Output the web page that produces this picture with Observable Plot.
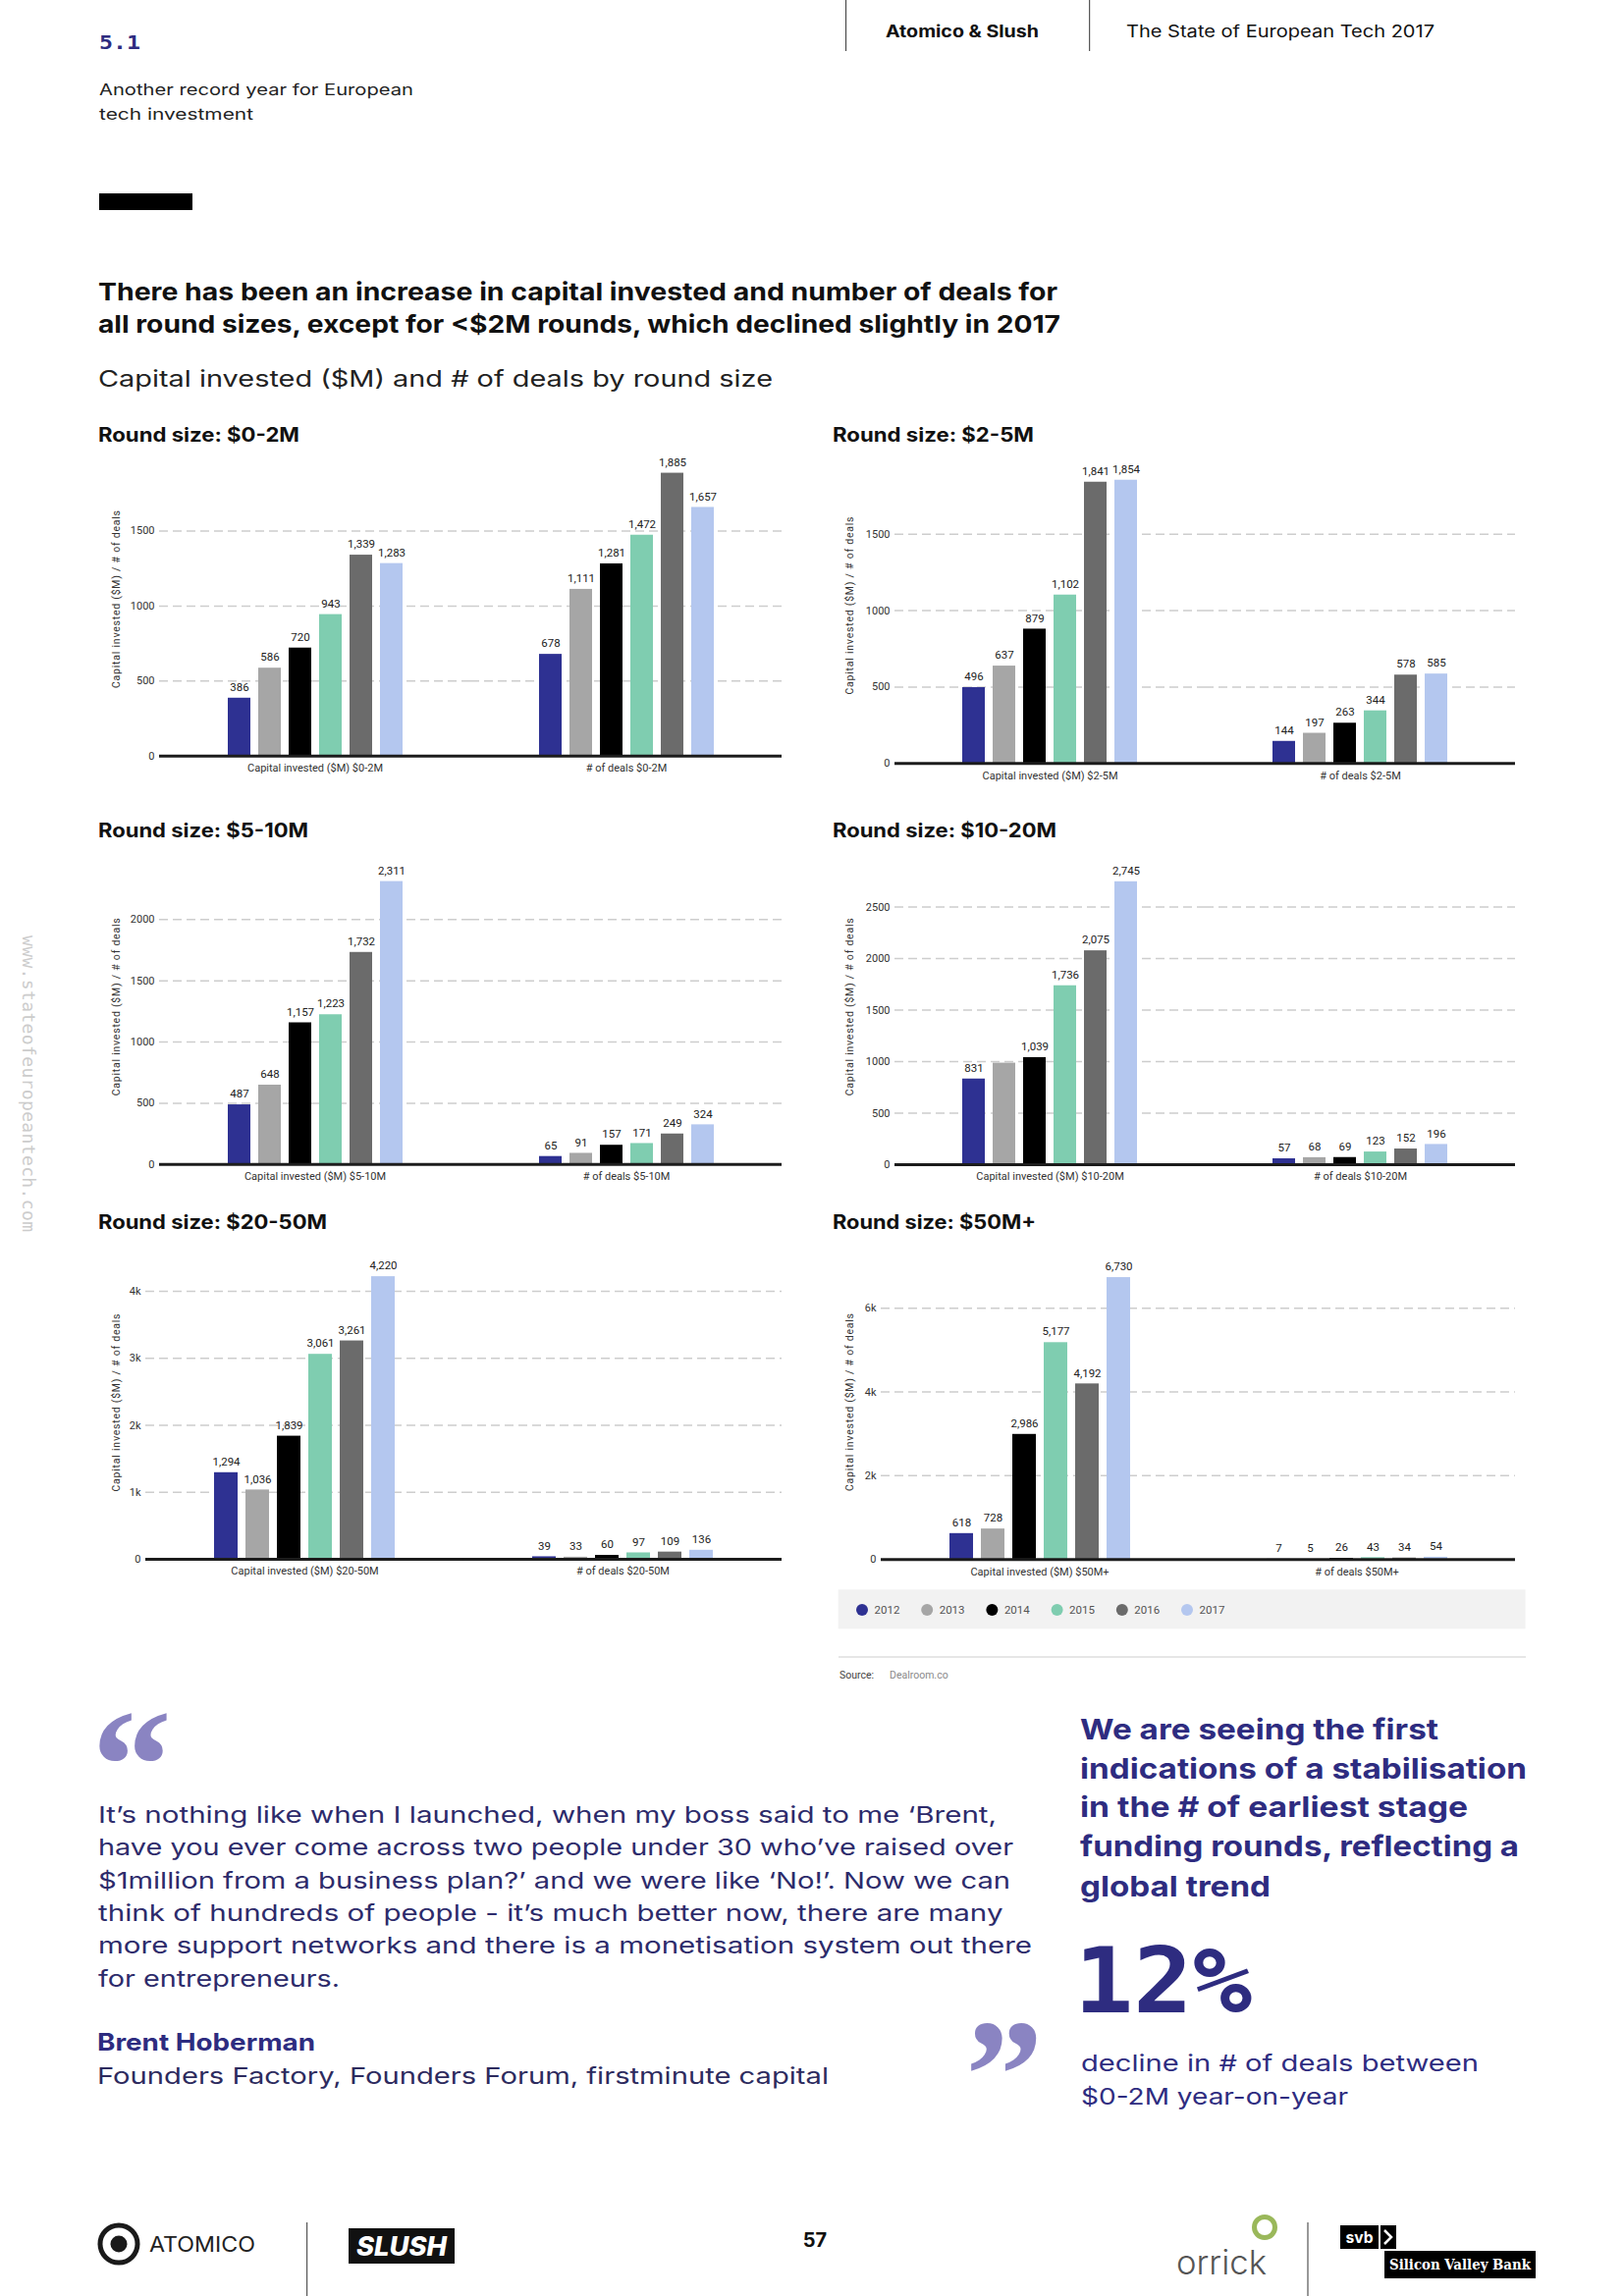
<!DOCTYPE html>
<html><head><meta charset="utf-8">
<script src="https://cdn.jsdelivr.net/npm/d3@7"></script>
<script src="https://cdn.jsdelivr.net/npm/@observablehq/plot@0.6"></script>
<style>
html,body{margin:0;padding:0;background:#fff;}
#page{position:relative;width:1654px;height:2339px;overflow:hidden;background:#fff;}
.panel{position:absolute;}
.panel svg{display:block;overflow:visible;}
#overlay{position:absolute;left:0;top:0;}
</style></head><body><div id="page"></div>
<script>
// ---------------- DATA ----------------
const years = ["2012","2013","2014","2015","2016","2017"];
const yearColors = ["#2e3192","#a6a6a6","#000000","#7fcdb0","#6b6b6b","#b4c7ef"];
const roundSizes = ["$0-2M","$2-5M","$5-10M","$10-20M","$20-50M","$50M+"];

const capital_0_2   = [386, 586, 720, 943, 1339, 1283];
const deals_0_2     = [678, 1111, 1281, 1472, 1885, 1657];
const capital_2_5   = [496, 637, 879, 1102, 1841, 1854];
const deals_2_5     = [144, 197, 263, 344, 578, 585];
const capital_5_10  = [487, 648, 1157, 1223, 1732, 2311];
const deals_5_10    = [65, 91, 157, 171, 249, 324];
const capital_10_20 = [831, 985, 1039, 1736, 2075, 2745];
const deals_10_20   = [57, 68, 69, 123, 152, 196];
const capital_20_50 = [1294, 1036, 1839, 3061, 3261, 4220];
const deals_20_50   = [39, 33, 60, 97, 109, 136];
const capital_50    = [618, 728, 2986, 5177, 4192, 6730];
const deals_50      = [7, 5, 26, 43, 34, 54];

// bar labels not printed in the original
const hiddenLabels = [{round: "$10-20M", series: "capital", year: "2013"}];

const yTicks_0_2 = [0, 500, 1000, 1500];          const yTickLabels_0_2 = ["0","500","1000","1500"];
const yTicks_2_5 = [0, 500, 1000, 1500];          const yTickLabels_2_5 = ["0","500","1000","1500"];
const yTicks_5_10 = [0, 500, 1000, 1500, 2000];   const yTickLabels_5_10 = ["0","500","1000","1500","2000"];
const yTicks_10_20 = [0, 500, 1000, 1500, 2000, 2500]; const yTickLabels_10_20 = ["0","500","1000","1500","2000","2500"];
const yTicks_20_50 = [0, 1000, 2000, 3000, 4000]; const yTickLabels_20_50 = ["0","1k","2k","3k","4k"];
const yTicks_50 = [0, 2000, 4000, 6000];          const yTickLabels_50 = ["0","2k","4k","6k"];

const yAxisTitle = "Capital invested ($M) / # of deals";
const capitalLabelPrefix = "Capital invested ($M) ";
const dealsLabelPrefix = "# of deals ";

const panels = [
  {round: roundSizes[0], capital: capital_0_2, deals: deals_0_2, ticks: yTicks_0_2, tickLabels: yTickLabels_0_2},
  {round: roundSizes[1], capital: capital_2_5, deals: deals_2_5, ticks: yTicks_2_5, tickLabels: yTickLabels_2_5},
  {round: roundSizes[2], capital: capital_5_10, deals: deals_5_10, ticks: yTicks_5_10, tickLabels: yTickLabels_5_10},
  {round: roundSizes[3], capital: capital_10_20, deals: deals_10_20, ticks: yTicks_10_20, tickLabels: yTickLabels_10_20},
  {round: roundSizes[4], capital: capital_20_50, deals: deals_20_50, ticks: yTicks_20_50, tickLabels: yTickLabels_20_50},
  {round: roundSizes[5], capital: capital_50, deals: deals_50, ticks: yTicks_50, tickLabels: yTickLabels_50}
];

// ---------------- LAYOUT ----------------
const layout = [
  {left: 90,  top: 453.9,  height: 345.8, ml: 72, mr: 16, ymax: 2000, tx: 100, tcy: 443,    tw: 205, ax: 118.7, ay: 610.5},
  {left: 842, top: 455.5,  height: 351.2, ml: 68, mr: 21, ymax: 2000, tx: 848, tcy: 442.7,  tw: 205, ax: 865.3, ay: 617},
  {left: 90,  top: 863.9,  height: 351.8, ml: 72, mr: 16, ymax: 2500, tx: 100, tcy: 845.8,  tw: 214, ax: 118.7, ay: 1025.8},
  {left: 842, top: 860.7,  height: 355.0, ml: 68, mr: 21, ymax: 3000, tx: 848, tcy: 845.8,  tw: 228, ax: 865.3, ay: 1025.8},
  {left: 90,  top: 1271.2, height: 347.1, ml: 58, mr: 16, ymax: 4500, tx: 100, tcy: 1245.2, tw: 233, ax: 118.7, ay: 1429},
  {left: 842, top: 1271.1, height: 347.2, ml: 54, mr: 21, ymax: 7200, tx: 848, tcy: 1244.3, tw: 207, ax: 865.3, ay: 1428.5}
];

const page = document.getElementById("page");
const fmt = d3.format(",");

panels.forEach((p, i) => {
  const L = layout[i];
  const capLabel = capitalLabelPrefix + p.round;
  const dealLabel = dealsLabelPrefix + p.round;
  const rows = [];
  years.forEach((y, j) => rows.push({cat: capLabel, series: "capital", year: y, value: p.capital[j]}));
  years.forEach((y, j) => rows.push({cat: dealLabel, series: "deals", year: y, value: p.deals[j]}));
  const labelRows = rows.filter(r => !hiddenLabels.some(h => h.round === p.round && h.series === r.series && h.year === r.year));
  const chart = Plot.plot({
    width: 722,
    height: L.height,
    marginLeft: L.ml, marginRight: L.mr, marginTop: 10, marginBottom: 30,
    style: {fontFamily: "Roboto", fontSize: "11px", color: "#333", background: "transparent", overflow: "visible"},
    fx: {domain: [capLabel, dealLabel], padding: 0, label: null, tickSize: 0, tickPadding: 8, axis: "bottom"},
    x: {domain: years, paddingInner: 0.26, paddingOuter: 2.15, axis: null},
    y: {domain: [0, L.ymax], ticks: p.ticks, tickFormat: d => p.tickLabels[p.ticks.indexOf(d)], tickSize: 0, tickPadding: 5, label: null},
    color: {domain: years, range: yearColors},
    marks: [
      Plot.ruleY(p.ticks.filter(d => d > 0), {stroke: "#cdcdcd", strokeWidth: 1.5, strokeDasharray: "9,5"}),
      Plot.barY(rows, {fx: "cat", x: "year", y: "value", fill: "year"}),
      Plot.ruleY([0], {stroke: "#1c1c1c", strokeWidth: 3}),
      Plot.text(labelRows, {fx: "cat", x: "year", y: "value", text: d => fmt(d.value), dy: -11, fontSize: 11.5, fill: "#222"})
    ]
  });
  const div = document.createElement("div");
  div.className = "panel";
  div.style.left = L.left + "px";
  div.style.top = L.top + "px";
  div.appendChild(chart);
  page.appendChild(div);
});

// ---------------- OVERLAY (page text, legend, logos) ----------------
const NS = "http://www.w3.org/2000/svg";
const ov = document.createElementNS(NS, "svg");
ov.setAttribute("id", "overlay");
ov.setAttribute("width", 1654); ov.setAttribute("height", 2339);
page.appendChild(ov);

function el(tag, attrs, parent = ov) {
  const e = document.createElementNS(NS, tag);
  for (const k in attrs) e.setAttribute(k, attrs[k]);
  parent.appendChild(e);
  return e;
}
function txt(str, x, cy, size, weight, color, len, o = {}) {
  const fam = o.family || "Inter";
  const t = el("text", {x: x, y: cy + size * (o.k || 0.36), "font-size": size, "font-weight": weight,
    fill: color, "font-family": fam});
  if (o.anchor) t.setAttribute("text-anchor", o.anchor);
  if (o.style) t.setAttribute("font-style", o.style);
  if (len) { t.setAttribute("textLength", len); t.setAttribute("lengthAdjust", o.adjust || "spacingAndGlyphs"); }
  if (o.ls) t.setAttribute("letter-spacing", o.ls);
  t.textContent = str;
  return t;
}
function inkText(str, family, weight, box, color) {
  const ctx = document.createElement("canvas").getContext("2d");
  ctx.font = `${weight} 100px "${family}"`;
  const m = ctx.measureText(str);
  const asc = m.actualBoundingBoxAscent, desc = m.actualBoundingBoxDescent;
  const l = m.actualBoundingBoxLeft, r = m.actualBoundingBoxRight;
  const s = box.h / (asc + desc);
  const sx = box.w / ((l + r) * s);
  const t = el("text", {x: 0, y: 0, "font-size": 100 * s, "font-weight": weight, "font-family": family, fill: color,
    transform: `translate(${box.x + l * s * sx},${box.y + asc * s}) scale(${sx},1)`});
  t.textContent = str;
  return t;
}

const navy = "#2e2c80";
// header
el("line", {x1: 861.6, y1: 0, x2: 861.6, y2: 52, stroke: "#333", "stroke-width": 1});
el("line", {x1: 1109.7, y1: 0, x2: 1109.7, y2: 52, stroke: "#333", "stroke-width": 1});
txt("Atomico & Slush", 902, 32, 17, 700, "#111", 156);
txt("The State of European Tech 2017", 1147, 32, 17, 400, "#111", 314);
txt("5.1", 101, 43, 19, 700, navy, 42, {family: "DejaVu Sans Mono"});
txt("Another record year for European", 101, 90.7, 16.5, 400, "#222", 320);
txt("tech investment", 101, 115.7, 16.5, 400, "#222", 157);
el("rect", {x: 101, y: 197, width: 95, height: 17, fill: "#000"});
txt("There has been an increase in capital invested and number of deals for", 100, 296.7, 24.5, 700, "#111", 977);
txt("all round sizes, except for <$2M rounds, which declined slightly in 2017", 100, 330, 24.5, 700, "#111", 980);
txt("Capital invested ($M) and # of deals by round size", 100, 385.7, 23, 400, "#222", 687);

// chart titles and y axis titles
panels.forEach((p, i) => {
  const L = layout[i];
  txt("Round size: " + p.round, L.tx, L.tcy, 20, 700, "#111", L.tw);
  const t = el("text", {x: L.ax, y: L.ay, "font-size": 10.5, "font-family": "Roboto", fill: "#333",
    "text-anchor": "middle", "dominant-baseline": "central", textLength: 181, lengthAdjust: "spacing",
    transform: `rotate(-90,${L.ax},${L.ay})`});
  t.textContent = yAxisTitle;
});

// legend
el("rect", {x: 853.6, y: 1619.3, width: 700, height: 40, fill: "#f2f2f2"});
years.forEach((y, j) => {
  const cx = 878 + j * 66.2;
  el("circle", {cx: cx, cy: 1640, r: 6, fill: yearColors[j]});
  txt(y, cx + 12.5, 1640, 11.5, 400, "#555", null, {family: "Roboto"});
});
el("line", {x1: 854, y1: 1688, x2: 1554, y2: 1688, stroke: "#e6e6e6", "stroke-width": 2});
txt("Source:", 855, 1706, 10.5, 400, "#444", null, {family: "Roboto"});
txt("Dealroom.co", 906, 1706, 10.5, 400, "#8a8a8a", null, {family: "Roboto"});

// quote
const lav = "#8a84c2";
inkText("\u201C", "Liberation Serif", 700, {x: 100, y: 1745, w: 70, h: 50}, lav);
inkText("\u201D", "Liberation Serif", 700, {x: 988, y: 2062, w: 68, h: 50}, lav);
const quoteLines = [
  "It\u2019s nothing like when I launched, when my boss said to me \u2018Brent,",
  "have you ever come across two people under 30 who\u2019ve raised over",
  "$1million from a business plan?\u2019 and we were like \u2018No!\u2019. Now we can",
  "think of hundreds of people - it\u2019s much better now, there are many",
  "more support networks and there is a monetisation system out there",
  "for entrepreneurs."
];
const quoteW = [915, 932, 929, 921.5, 951, 246];
quoteLines.forEach((s, k) => txt(s, 100, 1848.7 + k * 33.33, 23, 400, "#2d2b6b", quoteW[k]));
txt("Brent Hoberman", 99, 2080.3, 24, 700, navy, 222);
txt("Founders Factory, Founders Forum, firstminute capital", 99, 2114.7, 23, 400, "#2d2b5e", 745);

// right column
const sideLines = ["We are seeing the first", "indications of a stabilisation", "in the # of earliest stage",
  "funding rounds, reflecting a", "global trend"];
const sideW = [365, 455, 395, 447, 194];
const sideCy = [1761.7, 1802, 1840.7, 1881, 1921.3];
sideLines.forEach((s, k) => txt(s, 1100, sideCy[k], 29, 700, navy, sideW[k]));
inkText("12%", "DejaVu Sans Mono", 700, {x: 1103, y: 1980, w: 172, h: 70}, navy);
txt("decline in # of deals between", 1101, 2102, 23, 400, navy, 405);
txt("$0-2M year-on-year", 1101, 2135.3, 23, 400, navy, 272);

// side url
(function () {
  const t = el("text", {x: 29.7, y: 1104, "font-size": 18, "font-family": "DejaVu Sans Mono", fill: "#cccccc",
    "text-anchor": "middle", "dominant-baseline": "central", textLength: 302, lengthAdjust: "spacing",
    transform: "rotate(90,29.7,1104)"});
  t.textContent = "www.stateofeuropeantech.com";
})();

// footer
el("line", {x1: 312.7, y1: 2264, x2: 312.7, y2: 2339, stroke: "#333", "stroke-width": 1});
el("line", {x1: 1332, y1: 2264, x2: 1332, y2: 2339, stroke: "#333", "stroke-width": 1});
el("circle", {cx: 121, cy: 2286, r: 19, fill: "none", stroke: "#1a1a1a", "stroke-width": 5});
el("circle", {cx: 121, cy: 2286, r: 8.5, fill: "#1a1a1a"});
txt("ATOMICO", 152, 2286, 21, 400, "#222", 108);
el("rect", {x: 355, y: 2270, width: 108, height: 36, fill: "#111"});
txt("SLUSH", 409, 2288, 27, 800, "#fff", 92, {anchor: "middle", style: "italic"});
txt("57", 830, 2282, 20, 700, "#111", null, {anchor: "middle"});
el("circle", {cx: 1288, cy: 2269, r: 10.5, fill: "none", stroke: "#9ab85a", "stroke-width": 5});
txt("orrick", 1198, 2305, 34, 300, "#555", 92);
el("rect", {x: 1365, y: 2267, width: 39, height: 24, fill: "#000"});
txt("svb", 1384.5, 2279, 16, 700, "#fff", 28, {anchor: "middle"});
el("rect", {x: 1406, y: 2267, width: 16, height: 24, fill: "#000"});
el("path", {d: "M1410,2272 L1417,2279 L1410,2286", fill: "none", stroke: "#fff", "stroke-width": 2.5});
el("rect", {x: 1410, y: 2293, width: 154, height: 28, fill: "#000"});
txt("Silicon Valley Bank", 1487, 2307, 15, 700, "#fff", 144, {anchor: "middle", family: "DejaVu Serif Condensed"});
</script></body></html>
